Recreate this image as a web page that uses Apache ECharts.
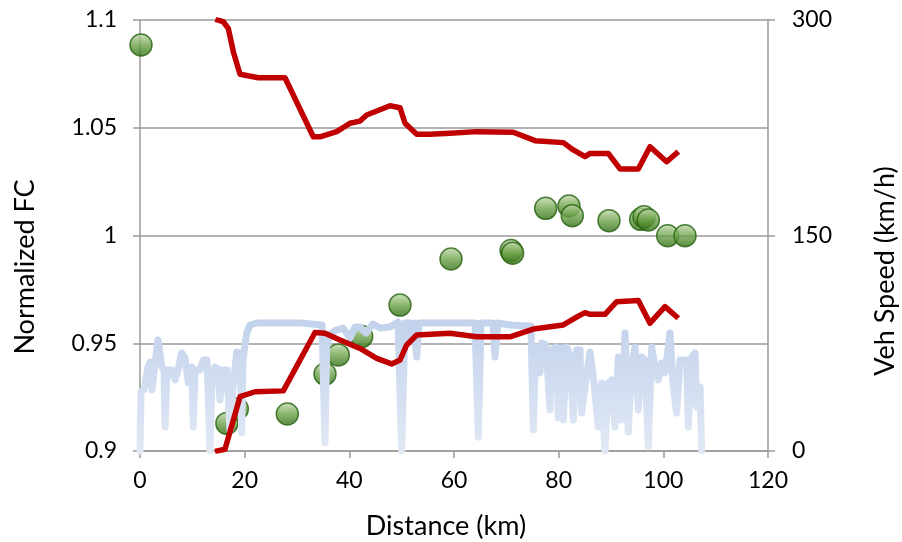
<!DOCTYPE html>
<html><head><meta charset="utf-8">
<script src="https://cdn.jsdelivr.net/npm/echarts@6/dist/echarts.min.js"></script>
<style>html,body{margin:0;padding:0;background:#fff}#c{width:902px;height:542px}</style>
</head><body><div id="c"></div>
<script>
// ---- data ----
const xTicks = [0, 20, 40, 60, 80, 100, 120];
const fcTicks = [0.9, 0.95, 1, 1.05, 1.1];
const speedTicks = [0, 150, 300];

const fcPoints = [
  [0.19, 1.0884], [16.6, 0.9128], [18.6, 0.9195], [28.15, 0.9172], [35.35, 0.9357],
  [37.89, 0.9446], [42.36, 0.9531], [49.68, 0.9677], [59.43, 0.9891], [70.9, 0.9930],
  [71.2, 0.9918], [77.52, 1.0126], [81.97, 1.0137], [82.6, 1.0092], [89.62, 1.0069],
  [95.67, 1.0075], [96.31, 1.0087], [97.13, 1.0072], [100.83, 0.9999], [104.14, 0.9999]
];

const upperBound = [
  [14.4, 1.1003], [15.9, 1.0992], [16.87, 1.0961], [17.83, 1.0853], [19.11, 1.0748],
  [22.6, 1.0732], [27.71, 1.0732], [33.11, 1.0458], [34.39, 1.0458], [37.59, 1.0482],
  [40.13, 1.0521], [42.04, 1.0531], [43.32, 1.0559], [47.77, 1.0602], [49.68, 1.0593],
  [50.64, 1.0521], [52.87, 1.0470], [55.41, 1.0470], [59.24, 1.0474], [64.34, 1.0482],
  [71.33, 1.0479], [75.48, 1.0440], [80.89, 1.0431], [82.8, 1.0397], [85.03, 1.0366],
  [85.99, 1.0381], [89.48, 1.0381], [91.72, 1.0309], [95.22, 1.0309], [97.45, 1.0412],
  [100.64, 1.0342], [102.86, 1.0389]
];

const lowerBound = [
  [14.33, 0.8998], [16.24, 0.9008], [19.11, 0.9252], [21.97, 0.9275], [27.38, 0.9279],
  [33.44, 0.9550], [35.35, 0.9546], [38.22, 0.9515], [42.04, 0.9476], [45.23, 0.9430],
  [48.09, 0.9404], [49.68, 0.9422], [50.96, 0.9492], [52.87, 0.9538], [59.24, 0.9546],
  [64.34, 0.9530], [70.7, 0.9530], [75.15, 0.9566], [80.89, 0.9585], [83.75, 0.9626],
  [85.03, 0.9642], [85.99, 0.9634], [88.85, 0.9634], [91.09, 0.9693], [95.22, 0.9698],
  [97.45, 0.9593], [100.32, 0.9670], [102.86, 0.9616]
];

const speedTrace = [
  [0, 0], [0.19, 41.1], [0.76, 42.5], [1.53, 58.5], [1.91, 61.9], [2.29, 42.5], [2.87, 61.3],
  [3.44, 77.3], [3.82, 77.3], [4.2, 58.5], [4.59, 56.4], [4.78, 16.7], [5.16, 56.4], [6.11, 56.4],
  [6.69, 49.4], [7.26, 56.4], [7.97, 68.2], [8.6, 64.7], [9.23, 47.3], [9.88, 58.5], [10.18, 16.7],
  [10.51, 56.4], [11.47, 56.4], [12.1, 63.3], [12.8, 63.3], [13.38, 0], [13.76, 51.5], [14.33, 58.5],
  [14.9, 57.1], [15.29, 35.5], [15.86, 56.4], [16.62, 56.4], [17.2, 14.6], [17.77, 44.5], [18.48, 68.9],
  [19.11, 68.2], [19.43, 12.5], [19.68, 63.3], [20.39, 82.1], [21.02, 87.7], [22.36, 89.1],
  [26.75, 89.1], [30.57, 89.1], [34.78, 87.7], [35.06, 87.7], [35.35, 5.6], [35.68, 73.8],
  [36.31, 81.4], [37.45, 84.2], [38.79, 85.6], [40.13, 78.7], [41.08, 86.3], [42.04, 86.3],
  [43.19, 82.1], [44.52, 88.4], [45.86, 85.6], [47.77, 86.3], [49.3, 89.8], [50.0, 0],
  [50.64, 89.1], [51.59, 89.1], [51.92, 77.3], [52.36, 89.1], [52.87, 65.4], [53.31, 89.1],
  [57.32, 89.1], [61.15, 89.1], [64.01, 89.1], [64.64, 9.7], [65.16, 89.1], [67.45, 89.1],
  [67.83, 65.4], [68.41, 89.1], [70.7, 87.7], [74.14, 87.0], [74.71, 87.0], [75.15, 14.6],
  [75.58, 72.4], [76.43, 54.3], [76.76, 75.2], [77.58, 73.8], [78.34, 28.5], [78.67, 70.3],
  [79.62, 72.4], [79.93, 23.0], [80.58, 71.7], [80.89, 21.6], [81.53, 72.4], [82.17, 66.8],
  [82.8, 21.6], [83.45, 70.3], [84.08, 70.3], [84.4, 26.4], [85.03, 44.5], [85.99, 68.9],
  [86.62, 51.5], [87.57, 16.7], [88.22, 47.3], [88.85, 0], [89.48, 47.3], [90.19, 49.4],
  [90.76, 16.7], [91.4, 65.4], [92.04, 21.6], [92.68, 82.1], [93.31, 13.2], [93.96, 61.3],
  [94.59, 72.4], [95.22, 28.5], [95.87, 65.4], [96.5, 63.3], [97.13, 2.8], [97.78, 72.4],
  [98.41, 58.5], [99.04, 49.4], [99.69, 61.3], [100.32, 54.3], [101.27, 82.1], [101.9, 44.5],
  [102.55, 26.4], [103.18, 63.3], [104.46, 63.3], [104.77, 16.7], [105.42, 65.4], [106.05, 68.2],
  [106.37, 30.6], [107.01, 44.5], [107.33, 0]
];

// ---- chart ----
const FONT = 'Lato';
const labelStyle = { color: '#000', fontFamily: FONT, fontSize: 23 };
const axisGray = '#9a9a9a';

const chart = echarts.init(document.getElementById('c'), null, { renderer: 'canvas' });
chart.setOption({
  animation: false,
  backgroundColor: '#fff',
  grid: { left: 140, right: 134, top: 20, bottom: 91, containLabel: false },
  xAxis: {
    type: 'value', min: xTicks[0], max: xTicks[xTicks.length - 1], interval: xTicks[1] - xTicks[0],
    axisLine: { show: true, lineStyle: { color: axisGray, width: 1.5 } },
    axisTick: { show: true, length: 7, lineStyle: { color: axisGray, width: 1.5 } },
    splitLine: { show: false },
    axisLabel: Object.assign({ margin: 18 }, labelStyle)
  },
  yAxis: [
    {
      type: 'value', min: fcTicks[0], max: fcTicks[fcTicks.length - 1], interval: 0.05,
      axisLine: { show: true, lineStyle: { color: axisGray, width: 1.5 } },
      axisTick: { show: true, length: 7, lineStyle: { color: axisGray, width: 1.5 } },
      splitLine: { show: true, lineStyle: { color: axisGray, width: 1.5 } },
      axisLabel: Object.assign({ margin: 23, formatter: v => String(+v.toFixed(2)) }, labelStyle)
    },
    {
      type: 'value', min: speedTicks[0], max: speedTicks[speedTicks.length - 1], interval: speedTicks[1] - speedTicks[0],
      position: 'right',
      axisLine: { show: true, lineStyle: { color: axisGray, width: 1.5 } },
      axisTick: { show: true, length: 7, lineStyle: { color: axisGray, width: 1.5 } },
      splitLine: { show: false },
      axisLabel: Object.assign({ margin: 24 }, labelStyle)
    }
  ],
  graphic: [
    { type: 'text', x: 25, y: 267, rotation: Math.PI / 2,
      style: { text: 'Normalized FC', font: '27px ' + FONT, fill: '#000', align: 'center', verticalAlign: 'middle' } },
    { type: 'text', x: 885, y: 271, rotation: Math.PI / 2,
      style: { text: 'Veh Speed (km/h)', font: '27px ' + FONT, fill: '#000', align: 'center', verticalAlign: 'middle' } },
    { type: 'text', x: 446, y: 526,
      style: { text: 'Distance (km)', font: '27px ' + FONT, fill: '#000', align: 'center', verticalAlign: 'middle' } }
  ],
  series: [
    {
      name: 'FC', type: 'scatter', yAxisIndex: 0, data: fcPoints, z: 2,
      symbol: 'circle', symbolSize: 22,
      itemStyle: {
        color: new echarts.graphic.LinearGradient(0, 0, 0, 1, [
          { offset: 0, color: '#c4dbb0' }, { offset: 0.5, color: '#6ea249' }, { offset: 1, color: '#2f6e14' }
        ]),
        borderColor: '#266310', borderWidth: 1.5
      }
    },
    {
      name: 'Speed', type: 'line', yAxisIndex: 1, data: speedTrace, z: 3,
      showSymbol: false, symbol: 'none',
      lineStyle: {
        width: 7, join: 'round', cap: 'round',
        color: new echarts.graphic.LinearGradient(0, 0, 0, 1, [
          { offset: 0, color: '#c2d2ec' }, { offset: 1, color: '#e2e9f5' }
        ])
      }
    },
    {
      name: 'Upper', type: 'line', yAxisIndex: 0, data: upperBound, z: 4,
      showSymbol: false, symbol: 'none', lineStyle: { color: '#c00000', width: 5.5, join: 'round' }
    },
    {
      name: 'Lower', type: 'line', yAxisIndex: 0, data: lowerBound, z: 4,
      showSymbol: false, symbol: 'none', lineStyle: { color: '#c00000', width: 5.5, join: 'round' }
    }
  ]
});
</script>
</body></html>
